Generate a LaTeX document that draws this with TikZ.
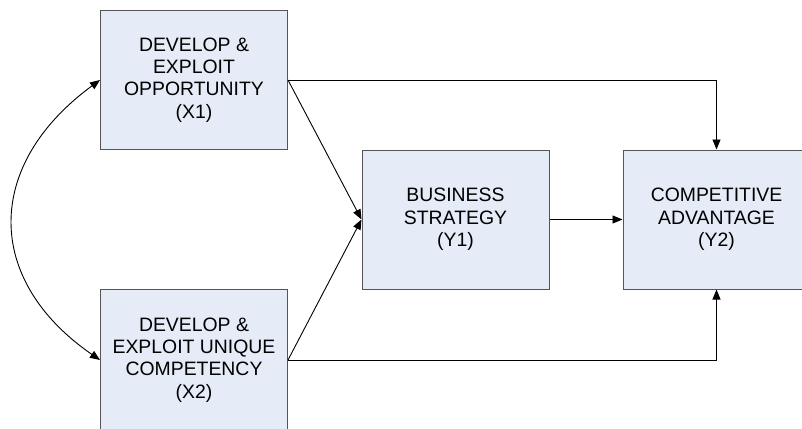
\documentclass[tikz,border=0pt]{standalone}
\usepackage{fontspec}
\setmainfont{Liberation Sans}
\usetikzlibrary{arrows.meta}
\definecolor{boxfill}{HTML}{E5ECF7}
\definecolor{boxline}{HTML}{555555}
\begin{document}
\begin{tikzpicture}[x=1pt,y=-1pt,
  varbox/.style={draw=boxline, fill=boxfill, line width=1pt, minimum width=187pt, minimum height=139pt,
    inner sep=0pt, align=center, font=\fontsize{19.4}{22.4}\selectfont},
  conn/.style={line width=0.9pt, -{Triangle[length=10pt,width=8pt]}}]
\useasboundingbox (0,0) rectangle (802,428);
\clip (0,0) rectangle (802,428);
\node[varbox] (X1) at (194,80) {DEVELOP \&\\EXPLOIT\\OPPORTUNITY\\(X1)};
\node[varbox, minimum height=142pt] (X2) at (194,360) {DEVELOP \&\\EXPLOIT UNIQUE\\COMPETENCY\\(X2)};
\node[varbox] (Y1) at (455.5,219.5) {BUSINESS\\STRATEGY\\(Y1)};
\node[varbox] (Y2) at (716.5,219.5) {COMPETITIVE\\ADVANTAGE\\(Y2)};
\draw[conn] (X1.east) -- (Y1.west);
\draw[conn] (X2.east) -- (Y1.west);
\draw[conn] (Y1.east) -- (Y2.west);
\draw[conn] (X1.east) -| (Y2.north);
\draw[conn] (X2.east) -| (Y2.south);
\draw[line width=0.9pt, {Triangle[length=10pt,width=8pt]}-{Triangle[length=10pt,width=8pt]}]
  (X1.west) .. controls (-16,165) and (-16,280) .. (X2.west);
\end{tikzpicture}
\end{document}
